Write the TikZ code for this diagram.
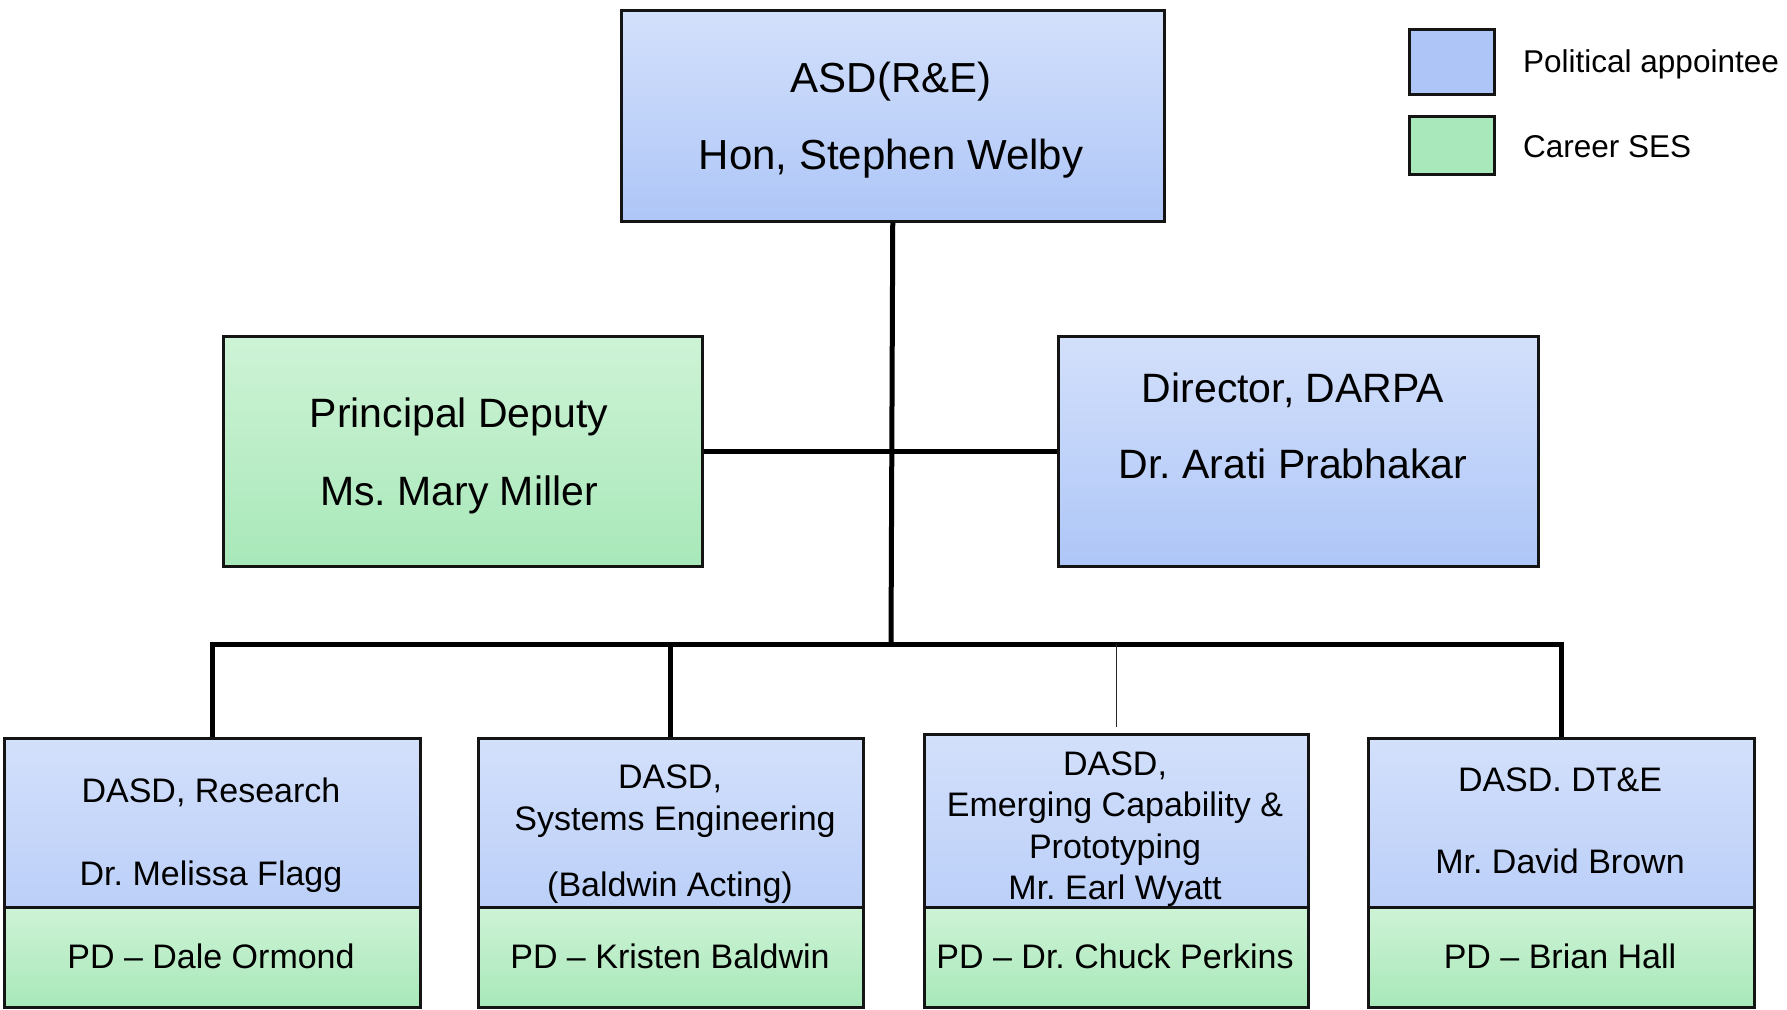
\documentclass[tikz,border=0pt]{standalone}
\usepackage{fontspec}
\setmainfont{Liberation Sans}
\usetikzlibrary{calc}
\frenchspacing
\definecolor{blueT}{RGB}{211,224,251}
\definecolor{blueB}{RGB}{174,198,247}
\definecolor{blueM}{RGB}{187,207,248}
\definecolor{greenT}{RGB}{206,243,214}
\definecolor{greenB}{RGB}{168,232,185}
\definecolor{legBlue}{RGB}{174,198,247}
\definecolor{legGreen}{RGB}{168,232,186}
\definecolor{edge}{RGB}{20,20,20}
\tikzset{
  box/.style={draw=edge, line width=2.5pt, inner sep=0pt, anchor=north west},
  bluebox/.style={box, top color=blueT, bottom color=blueB},
  blueboxs/.style={box, top color=blueT, bottom color=blueM},
  greenbox/.style={box, top color=greenT, bottom color=greenB},
  conn/.style={line width=5pt, draw=black, line join=miter},
  thinconn/.style={line width=1.5pt, draw=black!85},
  big/.style={anchor=base, inner sep=0pt, font=\frenchspacing\fontsize{42}{48}\selectfont},
  mid/.style={anchor=base, inner sep=0pt, font=\frenchspacing\fontsize{41}{47}\selectfont},
  small/.style={anchor=base, inner sep=0pt, font=\frenchspacing\fontsize{34}{40}\selectfont},
  leg/.style={anchor=base west, inner sep=0pt, font=\fontsize{31.5}{36}\selectfont},
}
\begin{document}
\begin{tikzpicture}[x=1pt,y=-1pt]
\useasboundingbox[fill=white] (0,0) rectangle (1787,1009);

% top box
\node[bluebox, minimum width=543pt, minimum height=211pt] (asd) at (620,9) {};
\node[big] (asd1) at (891,92) {ASD(R\&E)};
\node[big] (asd2) at (891,169) {Hon, Stephen Welby};

% middle row
\node[greenbox, minimum width=479pt, minimum height=230pt] (pdep) at (222,335) {};
\node[mid] (pdep1) at (459,427) {Principal Deputy};
\node[mid] (pdep2) at (459,505) {Ms. Mary Miller};

\node[bluebox, minimum width=480pt, minimum height=230pt] (darpa) at (1057,335) {};
\node[mid] (darpa1) at (1293,402) {Director, DARPA};
\node[mid] (darpa2) at (1293,478) {Dr. Arati Prabhakar};

% bottom boxes
\node[blueboxs, minimum width=416pt, minimum height=169pt] (dasd1) at (3,737) {};
\node[greenbox, minimum width=416pt, minimum height=100pt] (pd1) at (3,906) {};
\node[blueboxs, minimum width=385pt, minimum height=169pt] (dasd2) at (477,737) {};
\node[greenbox, minimum width=385pt, minimum height=100pt] (pd2) at (477,906) {};
\node[blueboxs, minimum width=384pt, minimum height=173pt] (dasd3) at (923,733) {};
\node[greenbox, minimum width=384pt, minimum height=100pt] (pd3) at (923,906) {};
\node[blueboxs, minimum width=386pt, minimum height=169pt] (dasd4) at (1367,737) {};
\node[greenbox, minimum width=386pt, minimum height=100pt] (pd4) at (1367,906) {};

\node[small] (t11) at (211,802) {DASD, Research};
\node[small] (t12) at (211,885) {Dr. Melissa Flagg};
\node[small] (t13) at (211,968) {PD -- Dale Ormond};

\node[small] (t21) at (670,788) {DASD,};
\node[small] (t22) at (675,830) {Systems Engineering};
\node[small] (t23) at (670,896) {(Baldwin Acting)};
\node[small] (t24) at (670,968) {PD -- Kristen Baldwin};

\node[small] (t31) at (1115,775) {DASD,};
\node[small] (t32) at (1115,816) {Emerging Capability \&};
\node[small] (t33) at (1115,858) {Prototyping};
\node[small] (t34) at (1115,899) {Mr. Earl Wyatt};
\node[small] (t35) at (1115,968) {PD -- Dr. Chuck Perkins};

\node[small] (t41) at (1560,791) {DASD. DT\&E};
\node[small] (t42) at (1560,873) {Mr. David Brown};
\node[small] (t43) at (1560,968) {PD -- Brian Hall};

% legend
\node[box, fill=legBlue, minimum width=85pt, minimum height=65pt] (legP) at (1408,28) {};
\node[box, fill=legGreen, minimum width=85pt, minimum height=58pt] (legC) at (1408,115) {};
\node[leg] (legPt) at (1523,72) {Political appointee};
\node[leg] (legCt) at (1523,157) {Career SES};

% connectors
\coordinate (bus) at (891,644);
\draw[conn] (asd.south) -- (bus);
\draw[conn] (pdep.east) -- (darpa.west);
\draw[conn] (dasd1.north) |- (bus) -| (dasd4.north);
\draw[conn] (dasd2.north) -- (dasd2.north |- bus);
\draw[thinconn] (dasd3.north |- bus) -- ($(dasd3.north)+(0,-6)$);
\end{tikzpicture}
\end{document}
